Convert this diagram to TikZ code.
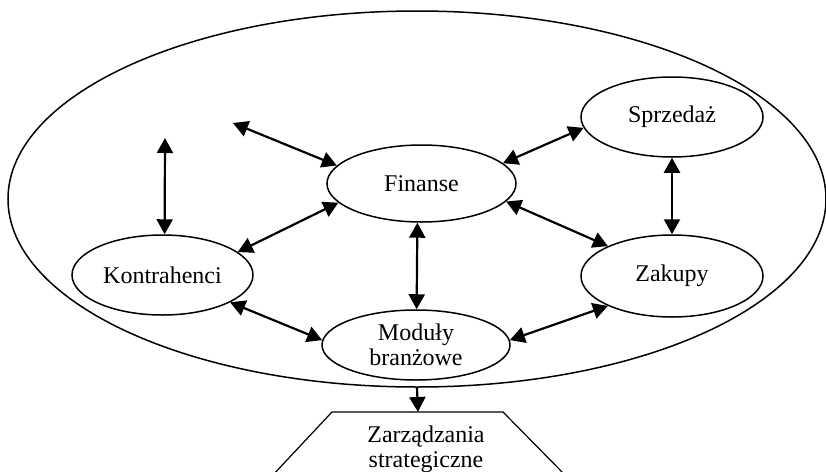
\documentclass[tikz,border=0pt]{standalone}
\usepackage{fontspec}
\setmainfont{Liberation Serif}
\usetikzlibrary{arrows.meta,shapes.geometric}
\tikzset{
  area/.style={draw,ellipse,line width=0.75pt,inner sep=0pt},
  module/.style={draw,ellipse,line width=0.75pt,inner sep=0pt,align=center,font=\fontsize{12}{12.5}\selectfont},
  link/.style={{Triangle[length=7.5pt,width=8pt]}-{Triangle[length=7.5pt,width=8pt]},line width=1.1pt},
  flow/.style={-{Triangle[length=7.5pt,width=8pt]},line width=1.1pt}
}

\begin{document}
\begin{tikzpicture}[x=0.5pt,y=-0.5pt]
\useasboundingbox (0,0) rectangle (826,472);

\node[area,minimum width=409pt,minimum height=188pt] (system) at (417,199) {};

\node[module,minimum width=94.5pt,minimum height=38.5pt] (fin) at (421.5,183.5) {Finanse};
\node[module,minimum width=94pt,minimum height=35pt] (mod) at (416,345) {Moduły\\branżowe};
\node[module,minimum width=90.5pt,minimum height=40pt] (kon) at (162.5,275) {Kontrahenci};
\node[module,minimum width=91pt,minimum height=40pt] (spr) at (672,117) {Sprzedaż};
\node[module,minimum width=91pt,minimum height=41pt] (zak) at (672,276) {Zakupy};

\coordinate (kfree) at (165,138);
\coordinate (ffree) at (233,123);

\draw[link] (kfree) -- (kon.87);
\draw[link] (ffree) -- (fin.168);
\draw[link] (fin.193) -- (kon.17);
\draw[link] (fin.14) -- (spr.187);
\draw[link] (fin.-12) -- (zak.155);
\draw[link] (fin.264) -- (mod.89);
\draw[link] (spr.270) -- (zak.90);
\draw[link] (kon.-22) -- (mod.177);
\draw[link] (mod.3) -- (zak.205);

% trapezoid, cut by the lower edge
\coordinate (zl) at (272,476);
\coordinate (ztl) at (332,412);
\coordinate (ztop) at (418,412);
\coordinate (ztr) at (503,412);
\coordinate (zr) at (566,476);
\draw[line width=0.6pt] (zl) -- (ztl) -- (ztr) -- (zr);
\node[align=center,font=\fontsize{12}{12.5}\selectfont] (strat) at (426,449) {Zarządzania\\strategiczne};

\draw[flow] (system.south) -- (ztop);

\end{tikzpicture}
\end{document}
